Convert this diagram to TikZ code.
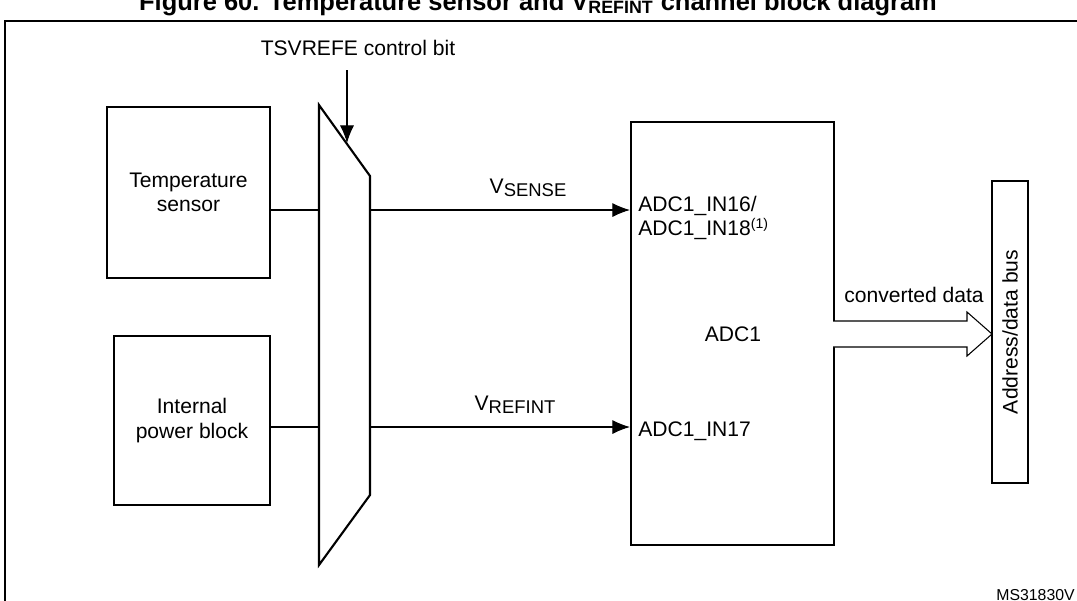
\documentclass[tikz,border=0pt]{standalone}
\usepackage{fontspec}
\setmainfont{Liberation Sans}
\usetikzlibrary{arrows.meta}
\newcommand{\mysub}[1]{\raisebox{-0.35ex}{\fontsize{10.5}{12}\selectfont #1}}
\begin{document}
\begin{tikzpicture}[x=0.02cm,y=-0.02cm,
  box/.style={draw,line width=1.2pt},
  ln/.style={line width=0.6pt},
  arr/.style={ln,-{Latex[length=10pt,width=8pt]}},
  txt/.style={font=\fontsize{12}{14}\selectfont,align=center,inner sep=0pt}]
\useasboundingbox (0,0) rectangle (1077,600);
\node[font=\fontsize{14.5}{16}\selectfont\bfseries,anchor=base] (title) at (538,10) {Figure 60. Temperature sensor and V\textsubscript{REFINT} channel block diagram};
\draw[line width=1pt] (1090,21) -- (5,21) -- (5,610);
\node[box,minimum width=163*0.02cm,minimum height=171*0.02cm,txt] (ts) at (188.5,192.5) {Temperature\\sensor};
\node[box,minimum width=156*0.02cm,minimum height=169*0.02cm,txt] (pb) at (192,420.5) {Internal\\power block};
\draw[line width=1.2pt] (319,105) -- (370,176) -- (370,495) -- (319,565) -- cycle;
\coordinate (m1l) at (319,210); \coordinate (m1r) at (370,210);
\coordinate (m2l) at (319,427); \coordinate (m2r) at (370,427);
\node[box,minimum width=203*0.02cm,minimum height=423*0.02cm] (adc) at (732.5,333.5) {};
\node[txt] (adcl) at (733,334) {ADC1};
\node[box,minimum width=36*0.02cm,minimum height=302*0.02cm] (bus) at (1010,332) {};
\node[txt,rotate=90] (busl) at (1010,332) {Address/data bus};
\node[txt] (ctl) at (358,48) {TSVREFE control bit};
\coordinate (ctlt) at (347,70); \coordinate (ctlb) at (347,143);
\draw[arr] (ctlt) -- (ctlb);
\draw[ln] (ts.east |- m1l) -- (m1l);
\draw[ln] (pb.east |- m2l) -- (m2l);
\draw[arr] (m1r) -- (adc.west |- m1r);
\draw[arr] (m2r) -- (adc.west |- m2r);
\node[txt,anchor=base] (vs) at (528,193) {V\mysub{SENSE}};
\node[txt,anchor=base] (vr) at (515,410) {V\mysub{REFINT}};
\node[txt,anchor=west,align=left] (in16) at (638,218) {ADC1\_IN16/\\ADC1\_IN18\textsuperscript{(1)}};
\node[txt,anchor=west] (in17) at (638,431) {ADC1\_IN17};
\draw[line width=0.6pt,fill=white] (833,321) -- (967,321) -- (967,312) -- (992,334) -- (967,356) -- (967,347) -- (833,347);
\node[txt] (cd) at (914,295) {converted data};
\node[font=\fontsize{9}{10}\selectfont,anchor=base east,inner sep=0pt] (ms) at (1075,600) {MS31830V};
\end{tikzpicture}
\end{document}
